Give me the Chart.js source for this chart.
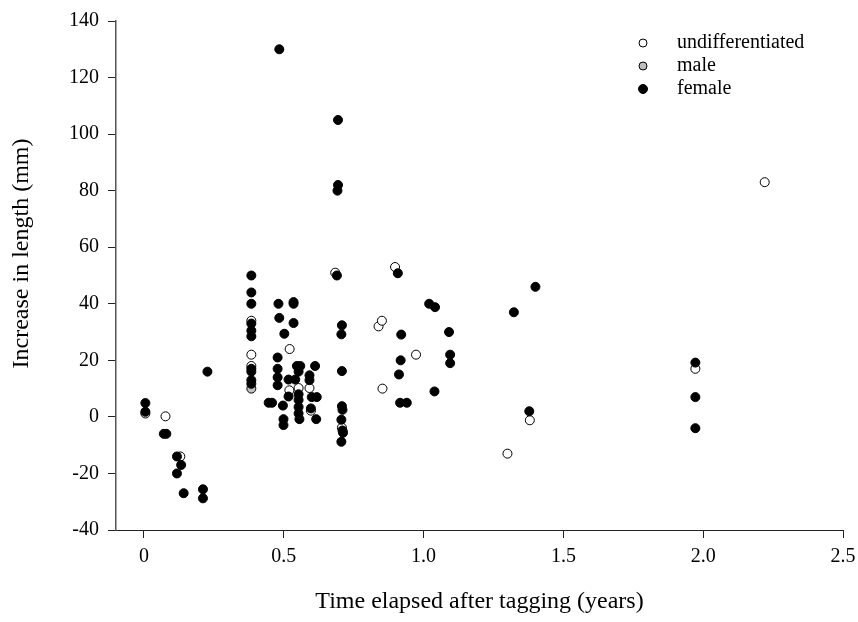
<!DOCTYPE html>
<html>
<head>
<meta charset="utf-8">
<script src="https://cdn.jsdelivr.net/npm/chart.js@4.4.1/dist/chart.umd.min.js"></script>
<style>
  html, body { margin: 0; padding: 0; background: #fff; }
  #wrap { width: 858px; height: 622px; }
</style>
</head>
<body>
<div id="wrap"><canvas id="myChart" width="858" height="622"></canvas></div>
<script>
// values
const undiffX = [0.005, 0.077, 0.13, 0.384, 0.384, 0.384, 0.521, 0.52, 0.553, 0.592, 0.597, 0.684, 0.708, 0.839, 0.851, 0.853, 0.898, 0.973, 1.30, 1.38, 1.972, 2.22]
const undiffY = [1.2, 0.2, -14, 34, 22, 18, 24, 9.4, 10.2, 10.2, 2.2, 51, -3.8, 32, 34, 10, 53, 22, -13, -1.2, 17, 83]

const maleX = [0.384]
const maleY = [10]

const femaleX = [0.005, 0.005, 0.071, 0.08, 0.118, 0.133, 0.118, 0.142, 0.211, 0.211, 0.227,
  0.384, 0.384, 0.384, 0.384, 0.384, 0.384, 0.384, 0.384, 0.384, 0.384,
  0.484, 0.481, 0.484, 0.478, 0.478, 0.478, 0.478,
  0.446, 0.458, 0.497, 0.499, 0.499, 0.502,
  0.535, 0.535, 0.535, 0.517, 0.541, 0.517,
  0.547, 0.559, 0.553, 0.553, 0.553, 0.553, 0.553, 0.556,
  0.612, 0.592, 0.592, 0.6, 0.618, 0.597, 0.616,
  0.694, 0.694, 0.692, 0.69, 0.708, 0.706, 0.708, 0.708, 0.71, 0.706, 0.71, 0.712, 0.706,
  0.908, 0.92, 0.918, 0.912, 0.916, 0.94,
  1.02, 1.041, 1.091, 1.095, 1.095, 1.039,
  1.323, 1.40, 1.378,
  1.972, 1.972, 1.972]
const femaleY = [4.9, 1.8, -6, -6, -14, -17, -20, -27, -25.6, -28.8, 16,
  50, 44, 40, 33, 30.5, 28.5, 17, 16, 13, 11.7,
  130, 40, 35, 21, 17, 14, 11.2,
  5, 5, 4, -0.8, -2.9, 29.4,
  40.6, 40, 33.2, 13.2, 13.2, 7.2,
  18, 18, 16, 8, 6, 3.5, 1.2, -0.8,
  18, 14.7, 13, 7, 7, 3, -0.8,
  105, 82, 80, 50, 32.4, 29.2, 16.2, 3.8, 2.5, -1, -4.8, -5.6, -8.8,
  50.8, 29.1, 20, 15, 5, 5,
  40, 38.8, 30, 22, 19, 9,
  37, 46, 2,
  19.2, 7, -4]

const xTicks = [0, 0.5, 1, 1.5, 2, 2.5]
const xTickLabels = ["0", "0.5", "1.0", "1.5", "2.0", "2.5"]
const yTicks = [-40, -20, 0, 20, 40, 60, 80, 100, 120, 140]

const seriesNames = ["undifferentiated", "male", "female"]
const yTitle = "Increase in length (mm)"

const FONT = "'Liberation Serif', 'Times New Roman', serif"

const toPoints = (xs, ys) => xs.map((x, i) => ({x: x, y: ys[i]}))

// legend drawn top right like the original
const cornerLegend = {
    id: "cornerLegend",
    afterDraw(chart) {
        const ctx = chart.ctx
        const styles = [
            {fill: "#ffffff", r: 4},
            {fill: "#c0c0c0", r: 4},
            {fill: "#000000", r: 4.5}
        ]
        ctx.save()
        ctx.font = "20px " + FONT
        ctx.textBaseline = "middle"
        seriesNames.forEach((name, i) => {
            const y = 43 + i * 23
            ctx.beginPath()
            ctx.arc(643, y, styles[i].r, 0, Math.PI * 2)
            ctx.fillStyle = styles[i].fill
            ctx.fill()
            ctx.lineWidth = 1
            ctx.strokeStyle = "#000"
            ctx.stroke()
            ctx.fillStyle = "#000"
            ctx.fillText(name, 677, y)
        })
        ctx.restore()
    }
}

// y title sits a little above the middle of the axis in the original
const yAxisTitle = {
    id: "yAxisTitle",
    afterDraw(chart) {
        const ctx = chart.ctx
        const area = chart.chartArea
        ctx.save()
        ctx.font = "24px " + FONT
        ctx.fillStyle = "#000"
        ctx.textAlign = "center"
        ctx.textBaseline = "middle"
        ctx.translate(22, (area.top + area.bottom) / 2 - 22)
        ctx.rotate(-Math.PI / 2)
        ctx.fillText(yTitle, 0, 0)
        ctx.restore()
    }
}

new Chart(document.getElementById("myChart"), {
    type: "scatter",
    data: {
        datasets: [
            {
                label: seriesNames[2],
                data: toPoints(femaleX, femaleY),
                backgroundColor: "#000",
                borderColor: "#000",
                borderWidth: 1,
                pointRadius: 4.5,
                order: 0
            },
            {
                label: seriesNames[1],
                data: toPoints(maleX, maleY),
                backgroundColor: "#c0c0c0",
                borderColor: "#000",
                borderWidth: 1,
                pointRadius: 4.5,
                order: 1
            },
            {
                label: seriesNames[0],
                data: toPoints(undiffX, undiffY),
                backgroundColor: "#fff",
                borderColor: "#000",
                borderWidth: 1,
                pointRadius: 4.5,
                order: 2
            }
        ]
    },
    options: {
        responsive: false,
        animation: false,
        devicePixelRatio: 1,
        layout: { padding: { left: 0, right: 15, top: 20.7, bottom: 0 } },
        plugins: {
            legend: { display: false },
            tooltip: { enabled: false }
        },
        scales: {
            x: {
                type: "linear",
                min: -0.1,
                max: 2.5,
                afterBuildTicks: scale => { scale.ticks = xTicks.map(v => ({value: v})) },
                afterFit: scale => {
                    scale.height = 92
                    scale.paddingRight = 0
                    scale.paddingLeft = 0
                },
                border: { display: true, color: "#222", width: 1 },
                grid: { drawOnChartArea: false, drawTicks: true, tickLength: 8, color: "#222" },
                ticks: {
                    color: "#000",
                    padding: 7,
                    font: { family: FONT, size: 20 },
                    callback: (v) => xTickLabels[xTicks.indexOf(v)]
                },
                title: {
                    display: true,
                    text: "Time elapsed after tagging (years)",
                    color: "#000",
                    font: { family: FONT, size: 24 },
                    padding: { top: 0, bottom: 6 }
                }
            },
            y: {
                type: "linear",
                min: -40,
                max: 140,
                afterBuildTicks: scale => { scale.ticks = yTicks.map(v => ({value: v})) },
                afterFit: scale => { scale.width = 116 },
                border: { display: true, color: "#555", width: 1.5 },
                grid: { drawOnChartArea: false, drawTicks: true, tickLength: 8, color: "#222" },
                ticks: {
                    color: "#000",
                    padding: 9,
                    font: { family: FONT, size: 20 }
                }
            }
        }
    },
    plugins: [cornerLegend, yAxisTitle]
})
</script>
</body>
</html>
